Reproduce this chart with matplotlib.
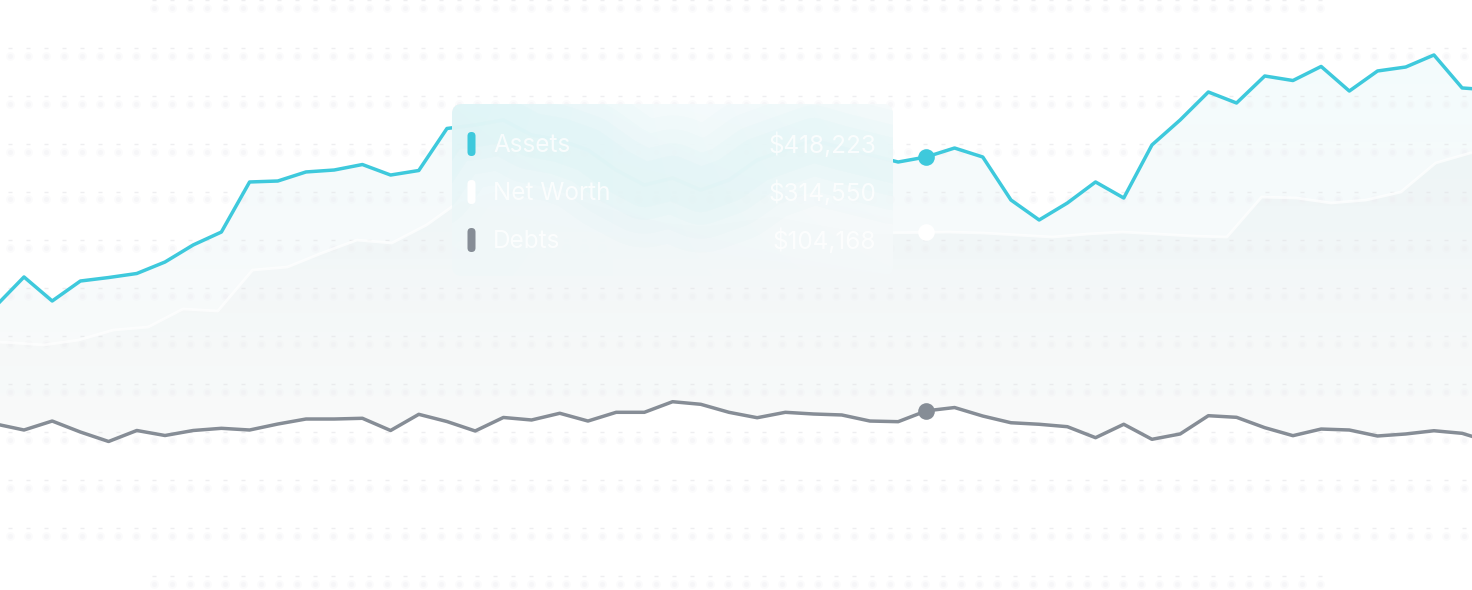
import numpy as np
import matplotlib
matplotlib.use("Agg")
import matplotlib.pyplot as plt
from matplotlib.patches import FancyBboxPatch, PathPatch

plt.rcParams['font.family'] = ['Inter', 'DejaVu Sans']

W, H, DPI = 1472, 590, 100

# ---------------- data (thousands of $) ----------------
assets = [233.8, 269.7, 240.0, 264.7, 269.0, 274.0, 288.2, 309.3, 325.3, 387.2,
          388.4, 399.6, 402.0, 408.8, 395.8, 401.4, 453.4, 457.7, 463.9, 445.3,
          439.1, 426.8, 402.0, 383.5, 392.1, 377.3, 389.7, 414.4, 426.8, 439.1,
          429.2, 420.6, 411.9, 418.2, 429.2, 418.1, 364.9, 340.2, 361.2, 387.2,
          367.4, 433.0, 463.9, 498.5, 484.9, 518.3, 512.7, 530.1, 499.7, 524.5,
          529.4, 544.3, 503.5, 501.0]
debts = [87.8, 80.4, 91.5, 77.9, 66.2, 79.8, 73.6, 79.8, 82.5, 80.4,
         87.8, 94.0, 94.0, 94.9, 79.8, 99.8, 90.9, 79.2, 95.9, 92.8,
         101.1, 91.5, 102.3, 102.3, 115.4, 112.2, 102.3, 95.6, 102.3, 100.2,
         99.0, 91.5, 90.7, 104.1, 108.2, 97.7, 89.4, 87.5, 84.5, 70.9,
         87.5, 68.9, 75.5, 98.1, 96.1, 83.3, 73.4, 81.6, 80.4, 73.0,
         75.5, 79.5, 76.3, 65.6]
net_worth = [190.5, 188.6, 185.6, 191.7, 204.1, 207.8, 230.1, 227.6, 278.3, 282.0,
             299.4, 315.4, 311.7, 334.0, 364.9, 377.3, 383.5, 371.1, 358.7, 346.4,
             337.7, 334.0, 340.2, 346.4, 337.7, 330.3, 324.1, 324.7, 325.3, 324.1,
             321.6, 319.1, 322.9, 325.3, 322.9, 320.4, 319.1, 368.6, 367.4, 361.2,
             364.9, 374.8, 410.7, 423.1, 426.8]
periods = np.arange(len(assets))
nw_periods = np.linspace(-0.766, 53.53, len(net_worth))
highlight = 33

tooltip_labels = ["Assets", "Net Worth", "Debts"]
tooltip_values = ["$418,223", "$314,550", "$104,168"]

C_ASSETS = '#3ec9dc'
C_NW = '#ffffff'
C_DEBTS = '#868d96'

fig = plt.figure(figsize=(W / DPI, H / DPI), dpi=DPI)
fig.patch.set_facecolor('white')
ax = fig.add_axes([0, 0, 1, 1])
ax.set_axis_off()
XL = (0.149, 52.35)
YL = (-117.5, 612.3)


def grad_fill(x, ytop, ybot, c_top, c_bot, a_top, a_bot, g_hi, g_lo, z):
    poly = ax.fill_between(x, ytop, ybot, color='none', lw=0)
    path = poly.get_paths()[0]
    patch = PathPatch(path, transform=ax.transData, facecolor='none', edgecolor='none')
    ax.add_patch(patch)
    n = 400
    t = np.linspace(0, 1, n)[:, None]
    ct = np.array(c_top) / 255.0
    cb = np.array(c_bot) / 255.0
    rgba = np.zeros((n, 2, 4))
    for k in range(3):
        rgba[:, :, k] = ct[k] * (1 - t) + cb[k] * t
    rgba[:, :, 3] = a_top * (1 - t) + a_bot * t
    im = ax.imshow(rgba, extent=[x[0] - 2, x[-1] + 2, g_lo, g_hi], origin='upper',
                   aspect='auto', zorder=z, interpolation='bilinear')
    im.set_clip_path(patch)


# cyan area between assets and debts
grad_fill(periods, assets, debts, (62, 201, 220), (120, 132, 142), 0.065, 0.04, 560, 60, 1)
# net worth area
grad_fill(nw_periods, net_worth, np.full(len(net_worth), YL[0]), (70, 125, 135), (120, 135, 140),
          0.045, 0.0, 440, 60, 2)
# white below debts line
ax.fill_between(periods, debts, YL[0], color='white', lw=0, zorder=3)

# decorative dotted grid (axes-fraction coordinates)
rows = np.arange(0, H + 1, 48)
for r in rows:
    xs = np.arange(10, W, 17.95)
    if r == rows[0] or r == rows[-1]:
        xs = xs[(xs > 150) & (xs < 1335)]
    fx = xs / W
    ax.scatter(fx, np.full(len(fx), 1 - (r + 7.5) / H), s=40, color='#efeff2', alpha=0.22,
               lw=0, transform=ax.transAxes, zorder=4)
    ax.scatter(fx, np.full(len(fx), 1 - (r + 7.5) / H), s=12, color='#ececf0', alpha=0.32,
               lw=0, transform=ax.transAxes, zorder=4)
    ax.scatter(fx, np.full(len(fx), 1 - r / H), s=6, marker='_', color='#e3e3e6',
               linewidths=1.0, alpha=0.6, transform=ax.transAxes, zorder=4)

# lines
ax.plot(nw_periods, net_worth, color=C_NW, lw=2.0, alpha=0.7, zorder=5, solid_joinstyle='round')
ax.plot(periods, debts, color=C_DEBTS, lw=2.5, zorder=6, solid_joinstyle='round')
ax.plot(periods, assets, color=C_ASSETS, lw=2.5, zorder=6, solid_joinstyle='round')

# highlight markers
ax.plot(periods[highlight], assets[highlight], 'o', ms=12, color=C_ASSETS, mec='none', zorder=7)
ax.plot(periods[highlight], debts[highlight], 'o', ms=12, color=C_DEBTS, mec='none', zorder=7)
ax.plot(periods[highlight], np.interp(periods[highlight], nw_periods, net_worth), 'o', ms=12,
        color=C_NW, mec='none', zorder=7)

ax.set_xlim(*XL)
ax.set_ylim(*YL)

# ---------------- tooltip overlay (pixel coordinates) ----------------
ax2 = fig.add_axes([0, 0, 1, 1], zorder=10)
ax2.set_axis_off()
ax2.set_autoscale_on(False)
ax2.set_xlim(0, W)
ax2.set_ylim(H, 0)

bx, by, bw, bh = 452, 104, 441, 172
box = FancyBboxPatch((bx, by), bw, bh, boxstyle='round,pad=0,rounding_size=10',
                     facecolor='none', edgecolor='none')
ax2.add_patch(box)
ny, nx = 60, 120
ty = np.linspace(0, 1, ny)[:, None]
tx = np.linspace(0, 1, nx)[None, :]
base = np.zeros((ny, nx, 4))
top_c = np.array([238, 249, 251]) / 255
right_c = np.array([249, 252, 253]) / 255
bot_c = np.array([242, 247, 248]) / 255
for k in range(3):
    base[:, :, k] = (top_c[k] * (1 - tx) + right_c[k] * tx) * (1 - ty * 0.6) + bot_c[k] * ty * 0.6
base[:, :, 3] = 0.985
im = ax2.imshow(base, extent=[bx, bx + bw, by + bh, by], origin='upper', aspect='auto',
                zorder=1, interpolation='bilinear')
im.set_clip_path(box)

# blurred glow of the hidden lines
for lw, a in [(90, 0.014), (70, 0.016), (50, 0.018), (32, 0.018)]:
    gl, = ax2.plot(periods, assets, color=C_ASSETS, lw=lw, alpha=a, transform=ax.transData,
                   zorder=2, solid_capstyle='round', solid_joinstyle='round')
    gl.set_clip_path(box)

# legend swatches and texts
ys = [144, 192, 240]
for yy, col, lab, val in zip(ys, [C_ASSETS, C_NW, C_DEBTS], tooltip_labels, tooltip_values):
    sw = FancyBboxPatch((467.5, yy - 12), 8, 24, boxstyle='round,pad=0,rounding_size=4',
                        facecolor=col, edgecolor='none', zorder=3)
    ax2.add_patch(sw)
    ax2.text(493, yy + 1, lab, fontsize=17.5, color='white', alpha=0.8, va='center', ha='left', zorder=4)
    ax2.text(876, yy + 1, val, fontsize=17.5, color='white', alpha=0.8, va='center', ha='right', zorder=4)

fig.savefig('out.png', dpi=DPI, facecolor='white')
